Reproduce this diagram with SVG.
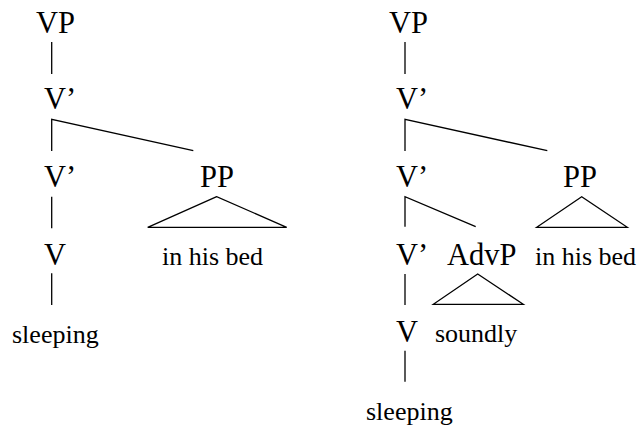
<svg xmlns="http://www.w3.org/2000/svg" width="639" height="430" viewBox="0 0 639 430">
<style>
text{font-family:"Liberation Serif","Times New Roman",serif;fill:#000}
.c{font-size:30.5px}
.t{font-size:26px}
.e{stroke:#000;stroke-width:1.3;fill:none}
</style>
<rect width="639" height="430" fill="#fff"/>
<g id="connectors">
<line class="e" x1="51.7" y1="42" x2="51.7" y2="74"/>
<polyline class="e" points="51.7,151 51.7,119.3 193.3,150.7"/>
<line class="e" x1="51.7" y1="196.7" x2="51.7" y2="228.3"/>
<polygon class="e" points="216.7,196.7 147.7,227.3 286.7,227.3"/>
<line class="e" x1="51.7" y1="273.3" x2="51.7" y2="305"/>
<line class="e" x1="405" y1="42" x2="405" y2="74"/>
<polyline class="e" points="405,151 405,119.3 547.3,150.7"/>
<polyline class="e" points="405,226.7 405,196.7 475.7,226.7"/>
<polygon class="e" points="581.7,196.7 536.7,227.3 627.3,227.3"/>
<line class="e" x1="405" y1="274" x2="405" y2="305"/>
<polygon class="e" points="477.7,274 433.3,304.3 523.3,304.3"/>
<line class="e" x1="405" y1="350.7" x2="405" y2="381.7"/>
</g>
<g id="L-VP"><text class="c" x="36" y="33">VP</text></g>
<g id="L-Vbar1"><text class="c" x="44" y="109">V’</text></g>
<g id="L-Vbar2"><text class="c" x="44" y="187">V’</text></g>
<g id="L-PP"><text class="c" x="200" y="187">PP</text></g>
<g id="L-V"><text class="c" x="44" y="265">V</text></g>
<g id="L-inhisbed"><text class="t" x="162" y="265">in his bed</text></g>
<g id="L-sleeping"><text class="t" x="12" y="342.7">sleeping</text></g>
<g id="R-VP"><text class="c" x="389" y="33">VP</text></g>
<g id="R-Vbar1"><text class="c" x="396" y="109">V’</text></g>
<g id="R-Vbar2"><text class="c" x="396" y="187">V’</text></g>
<g id="R-PP"><text class="c" x="563" y="187">PP</text></g>
<g id="R-Vbar3"><text class="c" x="396" y="265">V’</text></g>
<g id="R-AdvP"><text class="c" x="447" y="265">AdvP</text></g>
<g id="R-inhisbed"><text class="t" x="535" y="265">in his bed</text></g>
<g id="R-V"><text class="c" x="396" y="342">V</text></g>
<g id="R-soundly"><text class="t" x="435" y="342">soundly</text></g>
<g id="R-sleeping"><text class="t" x="366" y="420">sleeping</text></g>
</svg>
